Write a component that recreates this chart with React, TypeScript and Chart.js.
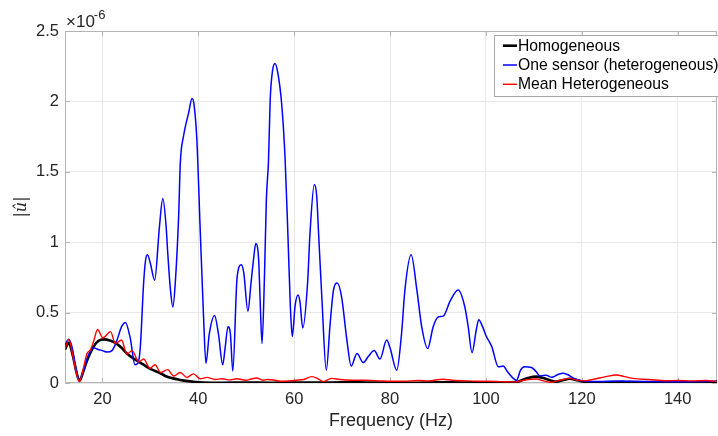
import React, { useEffect, useRef } from "react";
import { Chart, registerables } from "chart.js";

Chart.register(...registerables);

// Values are in units of 1e-6 (shown by the "×10^-6" axis multiplier)
const EXPONENT_BASE = "×10";
const EXPONENT_POWER = "-6";

const X_MIN = 12.2;
const X_MAX = 148.2;
const Y_MIN = 0;
const Y_MAX = 2.5;

const xTickValues = [20, 40, 60, 80, 100, 120, 140];
const yTickValues = [0, 0.5, 1, 1.5, 2, 2.5];

const xTitle = "Frequency (Hz)";
const yTitle = "|û|";

const seriesLabels = ["Homogeneous", "One sensor (heterogeneous)", "Mean Heterogeneous"];
const seriesColors = ["#000000", "#0000ff", "#ff0000"];

// [frequency (Hz), |u| (×1e-6)]
const homogeneous: [number, number][] = [
  [12.2, 0.24], [13.0, 0.285], [13.8, 0.2], [14.5, 0.09], [15.2, 0.015], [16.0, 0.08],
  [16.8, 0.16], [18.2, 0.26], [19.2, 0.3], [20.3, 0.31], [21.7, 0.3], [22.7, 0.285],
  [24.0, 0.25], [25.1, 0.21], [26.9, 0.165], [28.6, 0.13], [30.0, 0.1], [32.1, 0.069],
  [33.1, 0.05], [35.6, 0.026], [37.0, 0.017], [39.0, 0.009], [41.0, 0.004], [45.0, 0.002],
  [50.0, 0.003], [55.0, 0.002], [60.0, 0.004], [65.0, 0.003], [70.0, 0.005], [75.0, 0.004],
  [80.0, 0.003], [85.0, 0.002], [90.0, 0.005], [95.0, 0.004], [100.0, 0.005], [104.0, 0.004],
  [106.3, 0.006], [107.5, 0.02], [109.0, 0.038], [110.5, 0.045], [112.0, 0.035], [113.5, 0.018],
  [114.7, 0.01], [116.0, 0.02], [117.5, 0.03], [119.0, 0.02], [121.0, 0.006], [125.0, 0.004],
  [130.0, 0.006], [135.0, 0.004], [140.0, 0.005], [144.0, 0.004], [148.2, 0.004],
];

const oneSensor: [number, number][] = [
  [12.2, 0.27], [13.0, 0.31], [13.7, 0.25], [14.5, 0.1], [15.2, 0.02], [16.0, 0.08],
  [17.0, 0.19], [18.1, 0.25], [19.0, 0.24], [20.0, 0.23], [21.0, 0.22], [22.0, 0.23],
  [23.0, 0.3], [24.0, 0.4], [24.8, 0.43], [25.8, 0.32], [26.8, 0.13], [27.4, 0.14],
  [27.9, 0.25], [28.6, 0.71], [29.0, 0.87], [29.4, 0.91], [30.0, 0.85], [30.9, 0.73],
  [31.9, 1.11], [32.6, 1.31], [33.3, 1.11], [33.6, 0.94], [34.2, 0.66], [34.7, 0.54],
  [35.2, 0.71], [35.9, 1.18], [36.25, 1.56], [36.9, 1.75], [38.0, 1.92], [38.7, 2.02],
  [39.1, 1.98], [39.7, 1.73], [40.4, 1.09], [41.1, 0.47], [41.6, 0.14], [42.3, 0.35],
  [43.4, 0.48], [44.2, 0.35], [45.1, 0.13], [45.6, 0.25], [46.2, 0.4], [46.7, 0.35],
  [47.2, 0.085], [48.1, 0.75], [49.0, 0.84], [49.5, 0.78], [50.35, 0.51], [51.0, 0.71],
  [51.5, 0.87], [52.0, 0.99], [52.6, 0.87], [52.9, 0.59], [53.3, 0.28], [53.8, 0.75],
  [54.2, 1.3], [54.65, 1.58], [55.0, 2.01], [55.5, 2.22], [56.0, 2.27], [56.6, 2.2],
  [57.4, 1.98], [58.1, 1.6], [58.7, 1.05], [59.2, 0.55], [59.6, 0.33], [60.2, 0.55],
  [60.8, 0.625], [61.2, 0.58], [61.8, 0.39], [62.8, 0.71], [63.3, 1.06], [64.2, 1.41],
  [64.7, 1.33], [65.1, 1.06], [65.8, 0.59], [66.7, 0.09], [67.5, 0.42], [68.2, 0.66],
  [69.0, 0.71], [69.9, 0.61], [71.0, 0.305], [71.9, 0.12], [73.1, 0.21], [74.4, 0.145],
  [75.5, 0.19], [76.7, 0.23], [77.9, 0.17], [79.3, 0.305], [80.0, 0.25], [81.4, 0.09],
  [82.4, 0.35], [83.1, 0.66], [84.4, 0.91], [85.6, 0.66], [86.6, 0.4], [87.85, 0.245],
  [89.0, 0.4], [90.1, 0.47], [91.1, 0.475], [92.5, 0.58], [94.2, 0.66], [95.6, 0.54],
  [96.3, 0.4], [97.1, 0.215], [98.0, 0.38], [98.5, 0.45], [99.3, 0.4], [100.1, 0.33],
  [101.2, 0.26], [102.6, 0.115], [103.6, 0.12], [104.5, 0.08], [106.4, 0.02], [107.2, 0.09],
  [108.1, 0.115], [109.5, 0.11], [110.5, 0.08], [111.25, 0.05], [112.6, 0.055], [113.7, 0.04],
  [115.0, 0.06], [116.1, 0.07], [117.0, 0.06], [118.5, 0.03], [120.0, 0.015], [123.75, 0.01],
  [127.0, 0.015], [130.0, 0.012], [135.0, 0.01], [140.0, 0.008], [144.0, 0.01], [148.2, 0.015],
];

const meanHeterogeneous: [number, number][] = [
  [12.2, 0.24], [13.0, 0.31], [13.8, 0.2], [14.5, 0.08], [15.2, 0.01], [16.0, 0.1],
  [16.8, 0.21], [17.5, 0.235], [18.2, 0.3], [19.0, 0.38], [20.1, 0.32], [21.7, 0.365],
  [22.7, 0.28], [24.0, 0.305], [25.1, 0.205], [26.2, 0.23], [27.6, 0.15], [28.6, 0.17],
  [29.9, 0.105], [31.0, 0.13], [32.1, 0.075], [33.6, 0.095], [34.9, 0.05], [36.25, 0.075],
  [37.6, 0.04], [39.0, 0.065], [40.4, 0.03], [41.8, 0.04], [43.5, 0.025], [45.0, 0.03],
  [46.5, 0.022], [48.0, 0.03], [50.0, 0.02], [51.0, 0.028], [52.2, 0.035], [53.5, 0.02],
  [54.5, 0.025], [56.0, 0.02], [57.5, 0.012], [59.0, 0.015], [60.5, 0.02], [62.0, 0.025],
  [63.7, 0.045], [65.0, 0.03], [66.1, 0.01], [67.8, 0.033], [69.5, 0.025], [72.0, 0.02],
  [75.0, 0.02], [78.0, 0.015], [80.0, 0.012], [83.0, 0.013], [86.0, 0.018], [88.0, 0.015],
  [91.0, 0.027], [93.0, 0.02], [96.0, 0.015], [100.0, 0.012], [103.0, 0.01], [106.0, 0.008],
  [108.0, 0.02], [110.5, 0.028], [112.0, 0.015], [113.5, 0.005], [115.5, 0.02], [117.5, 0.033],
  [119.0, 0.02], [120.5, 0.015], [123.0, 0.03], [125.0, 0.045], [127.2, 0.057], [129.0, 0.045],
  [130.7, 0.033], [134.0, 0.025], [137.6, 0.016], [140.0, 0.018], [143.0, 0.015], [146.0, 0.018],
  [148.2, 0.01],
];

const FONT = "'Liberation Sans', Arial, Helvetica, sans-serif";
const AXIS_GRAY = "#262626";
const BOX_GRAY = "#b4b4b4";

const decorPlugin = {
  id: "matlabDecor",
  beforeDatasetsDraw(chart: any) {
    const { ctx, chartArea } = chart;
    const { left, right, top, bottom } = chartArea;
    const xs = chart.scales.x;
    const ys = chart.scales.y;
    ctx.save();
    ctx.strokeStyle = BOX_GRAY;
    ctx.lineWidth = 1;
    ctx.beginPath();
    ctx.rect(left + 0.5, top + 0.5, right - left - 1, bottom - top - 1);
    ctx.stroke();
    const tl = 5;
    ctx.beginPath();
    xTickValues.forEach((v) => {
      const px = Math.round(xs.getPixelForValue(v)) + 0.5;
      ctx.moveTo(px, bottom);
      ctx.lineTo(px, bottom - tl);
      ctx.moveTo(px, top);
      ctx.lineTo(px, top + tl);
    });
    yTickValues.forEach((v) => {
      const py = Math.round(ys.getPixelForValue(v)) + 0.5;
      ctx.moveTo(left, py);
      ctx.lineTo(left + tl, py);
      ctx.moveTo(right, py);
      ctx.lineTo(right - tl, py);
    });
    ctx.stroke();
    ctx.restore();
  },
  afterDatasetsDraw(chart: any) {
    const { ctx, chartArea } = chart;
    ctx.save();
    // exponent label
    ctx.fillStyle = AXIS_GRAY;
    ctx.textBaseline = "alphabetic";
    ctx.textAlign = "left";
    ctx.font = `17px ${FONT}`;
    const bx = chartArea.left + 1;
    ctx.fillText(EXPONENT_BASE, bx, 27);
    const w = ctx.measureText(EXPONENT_BASE).width;
    ctx.font = `13px ${FONT}`;
    ctx.fillText(EXPONENT_POWER, bx + w - 1, 18.5);

    // legend
    const lx = 494;
    const ly = 35;
    const lw = 232;
    const lh = 61;
    ctx.fillStyle = "#ffffff";
    ctx.fillRect(lx, ly, lw, lh);
    ctx.strokeStyle = "#a8a8a8";
    ctx.lineWidth = 1;
    ctx.strokeRect(lx + 0.5, ly + 0.5, lw, lh);
    const rows = [45.7, 65, 84.3];
    const widths = [2.6, 1.5, 1.4];
    ctx.font = `15.7px ${FONT}`;
    ctx.textBaseline = "middle";
    seriesLabels.forEach((label, i) => {
      const y = rows[i];
      ctx.strokeStyle = seriesColors[i];
      ctx.lineWidth = widths[i];
      ctx.beginPath();
      ctx.moveTo(503, y);
      ctx.lineTo(517, y);
      ctx.stroke();
      ctx.fillStyle = "#000000";
      ctx.fillText(label, 518, y + 0.5);
    });
    ctx.restore();
  },
};

export default function App() {
  const canvasRef = useRef<HTMLCanvasElement>(null);

  useEffect(() => {
    const canvas = canvasRef.current;
    if (!canvas) return;
    const toPoints = (arr: [number, number][]) => arr.map(([x, y]) => ({ x, y }));
    const chart = new Chart(canvas, {
      type: "line",
      data: {
        datasets: [
          {
            label: seriesLabels[0],
            data: toPoints(homogeneous),
            borderColor: seriesColors[0],
            borderWidth: 2.6,
            pointRadius: 0,
            cubicInterpolationMode: "monotone",
            order: 2,
          },
          {
            label: seriesLabels[1],
            data: toPoints(oneSensor),
            borderColor: seriesColors[1],
            borderWidth: 1.5,
            pointRadius: 0,
            cubicInterpolationMode: "monotone",
            order: 1,
          },
          {
            label: seriesLabels[2],
            data: toPoints(meanHeterogeneous),
            borderColor: seriesColors[2],
            borderWidth: 1.4,
            pointRadius: 0,
            cubicInterpolationMode: "monotone",
            order: 0,
          },
        ],
      },
      options: {
        animation: false,
        responsive: false,
        devicePixelRatio: 1,
        layout: { padding: { top: 31, right: 1, left: 0, bottom: 0 } },
        plugins: {
          legend: { display: false },
          tooltip: { enabled: false },
        },
        scales: {
          x: {
            type: "linear",
            min: X_MIN,
            max: X_MAX,
            afterBuildTicks: (scale: any) => {
              scale.ticks = xTickValues.map((value) => ({ value }));
            },
            afterFit: (scale: any) => {
              scale.height = 53;
            },
            grid: { color: "#e8e8e8", drawTicks: false },
            border: { display: false },
            ticks: {
              color: AXIS_GRAY,
              font: { family: FONT, size: 16.5 },
              padding: 7,
              maxRotation: 0,
              callback: (v: any) => String(v),
            },
            title: {
              display: true,
              text: xTitle,
              color: AXIS_GRAY,
              font: { family: FONT, size: 18 },
              padding: { top: 0, bottom: 4 },
            },
          },
          y: {
            type: "linear",
            min: Y_MIN,
            max: Y_MAX,
            afterBuildTicks: (scale: any) => {
              scale.ticks = yTickValues.map((value) => ({ value }));
            },
            afterFit: (scale: any) => {
              scale.width = 65;
            },
            grid: { color: "#e8e8e8", drawTicks: false },
            border: { display: false },
            ticks: {
              color: AXIS_GRAY,
              font: { family: FONT, size: 16.5 },
              padding: 6,
              callback: (v: any) => String(v),
            },
            title: {
              display: true,
              text: yTitle,
              color: AXIS_GRAY,
              font: { family: "'DejaVu Serif', serif", size: 16, style: "italic" },
              padding: { top: 12, bottom: 0 },
            },
          },
        },
      },
      plugins: [decorPlugin],
    } as any);
    return () => chart.destroy();
  }, []);

  return (
    <div style={{ position: "absolute", left: 0, top: 0, width: 718, height: 436, background: "#ffffff" }}>
      <canvas ref={canvasRef} width={718} height={436} style={{ display: "block" }} />
    </div>
  );
}
